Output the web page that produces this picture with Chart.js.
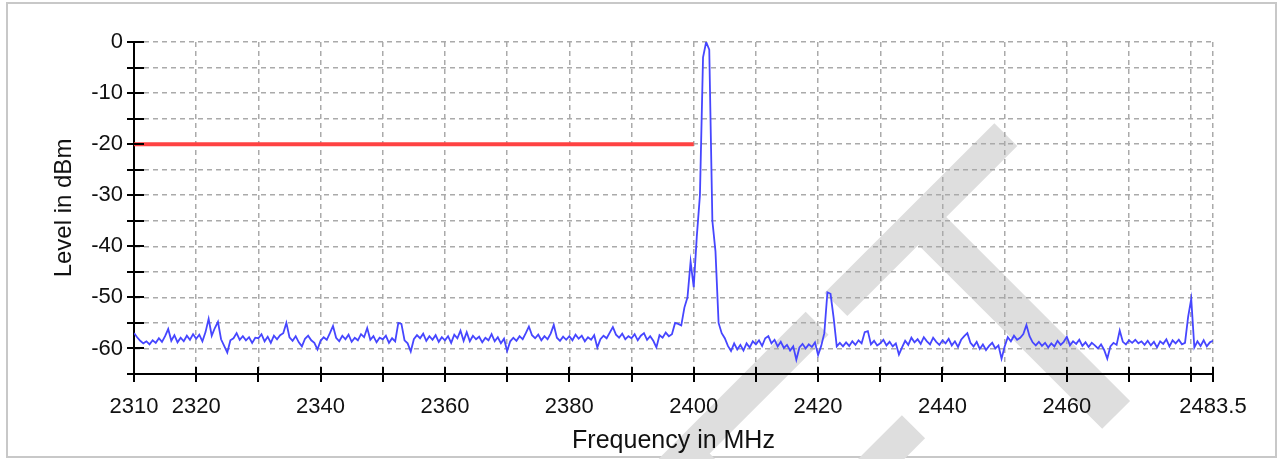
<!DOCTYPE html>
<html>
<head>
<meta charset="utf-8">
<title>Spectrum 2310 - 2483.5 MHz</title>
<script src="https://cdn.jsdelivr.net/npm/chart.js@4.4.0/dist/chart.umd.min.js"></script>
<style>
	html, body { margin: 0; padding: 0; background: #ffffff; }
	#Chart_Box { position: relative; width: 1282px; height: 459px; }
</style>
</head>
<body>
<div id="Chart_Box"><canvas id="Chart_Spectrum"></canvas></div>
<script>

// sweep: one reading every 0.5 MHz from 2310 MHz
const sweep_start = 2310;
const sweep_step = 0.5;

const level_dbm = [
	// 2310
	-57.0, -57.8, -58.5, -59.0, -58.6, -59.2, -58.4, -58.9, -58.0, -58.7, -57.6, -56.2, -58.5, -57.4, -58.8, -57.9, -58.6, -57.5, -58.3, -57.2,
	// 2320
	-58.1, -57.3, -58.6, -56.8, -54.2, -57.5, -56.0, -54.8, -58.2, -59.5, -60.8, -58.4, -58.0, -57.0, -58.3, -57.6, -58.4, -57.8, -58.9, -57.9,
	// 2330
	-58.0, -57.2, -58.6, -57.7, -58.9, -57.5, -58.2, -57.4, -57.0, -55.0, -57.8, -58.5, -57.6, -58.8, -59.6, -58.1, -57.5, -58.4, -58.9, -60.2,
	// 2340
	-58.5, -57.8, -58.3, -57.0, -55.6, -57.9, -58.6, -57.5, -58.2, -57.3, -58.7, -57.9, -58.4, -57.2, -57.8, -56.0, -58.3, -57.6, -58.8, -57.9,
	// 2350
	-58.2, -57.5, -58.9, -58.0, -58.6, -55.0, -55.2, -58.4, -59.0, -60.6, -58.2, -57.4, -58.0, -57.1, -58.5, -57.6, -58.3, -57.4, -58.7, -57.8,
	// 2360
	-58.4, -57.6, -58.9, -57.3, -58.0, -56.5, -58.5, -56.8, -58.6, -57.5, -58.2, -57.7, -58.8, -57.9, -58.4, -57.2, -58.6, -57.8, -59.0, -58.1,
	// 2370
	-60.5, -58.6, -57.9, -58.5, -57.6, -58.2, -57.0, -55.7, -57.4, -58.0, -57.3, -58.4, -57.6, -58.2, -57.1, -55.4, -57.9, -58.5, -57.7, -58.3,
	// 2380
	-57.6, -58.4, -57.3, -58.1, -57.5, -58.6, -57.8, -58.3, -57.4, -59.8, -58.2, -57.5, -58.0, -56.9, -55.8, -57.3, -57.9, -57.1, -58.2, -57.6,
	// 2390
	-58.0, -57.2, -58.4, -57.5, -57.0, -58.3, -57.6, -58.5, -59.8, -57.4, -57.9, -56.9, -57.6, -57.2, -55.0, -55.2, -55.5, -52.0, -50.0, -43.0,
	// 2400 (carrier)
	-48.0, -38.0, -30.0, -3.0, 0.0, -1.5, -35.0, -41.0, -55.0, -57.0, -58.0, -59.5, -60.5, -59.0, -60.2, -59.3, -60.4, -59.0, -59.8, -58.6,
	// 2410
	-59.2, -58.4, -59.5, -58.0, -57.6, -59.0, -58.3, -59.6, -58.7, -59.9, -59.3, -60.4, -59.6, -62.2, -59.8, -59.1, -60.0, -59.2, -59.7, -58.8,
	// 2420
	-61.3, -59.5, -57.0, -49.0, -49.3, -54.0, -59.6, -58.9, -59.6, -58.8, -59.5, -58.6, -59.3, -58.4, -59.0, -56.8, -56.6, -59.2, -58.5, -59.4,
	// 2430
	-59.0, -58.3, -59.4, -58.7, -59.6, -59.0, -61.2, -59.8, -58.5, -59.3, -57.9, -58.8, -58.2, -59.1, -57.8, -58.6, -59.2, -57.9, -58.7, -59.3,
	// 2440
	-58.4, -59.0, -58.1, -59.4, -58.6, -59.7, -58.3, -57.6, -57.0, -58.9, -59.6, -58.7, -60.1, -59.2, -60.3, -59.5, -58.9, -60.0, -59.4, -62.0,
	// 2450
	-59.6, -57.8, -58.6, -57.5, -58.3, -57.9, -57.2, -55.4, -57.6, -58.8, -59.4, -58.7, -59.5, -58.9, -59.8, -59.0, -59.6, -58.5, -59.3, -58.7,
	// 2460
	-57.7, -59.4, -58.6, -59.1, -58.3, -59.5, -58.8, -59.7, -58.9, -59.4, -60.0, -59.2, -60.3, -62.0, -59.6, -58.9, -59.3, -56.5, -58.7, -59.2,
	// 2470
	-58.4, -58.9, -58.3, -59.0, -58.6, -59.3, -58.5, -59.4, -58.7, -59.8, -58.6, -59.1, -58.2, -59.6, -58.4, -59.0, -58.3, -59.2, -58.9, -53.8,
	// 2480
	-50.3, -59.8, -58.6, -59.5, -58.4, -59.6, -58.8, -58.5
];

// limit line
const limit_freq = [2310, 2400];
const limit_level = [-20, -20];

// axes
const freq_ticks = [2310, 2320, 2330, 2340, 2350, 2360, 2370, 2380, 2390, 2400, 2410, 2420, 2430, 2440, 2450, 2460, 2470, 2480, 2483.5];
const freq_labels = [2310, 2320, 2340, 2360, 2380, 2400, 2420, 2440, 2460, 2483.5];
const level_labels = [0, -10, -20, -30, -40, -50, -60];

const font_family = "'Liberation Sans', Arial, sans-serif";

window.onload = init;

let chart = null;

function init() {

	const chart_ctx = document.getElementById('Chart_Spectrum').getContext('2d');

	const trace = [];
	let idx = 0;
	while(idx < level_dbm.length) {
		trace[idx] = { x: sweep_start + idx * sweep_step, y: level_dbm[idx] };
		idx++;
	}

	const limit = [];
	idx = 0;
	while(idx < limit_freq.length) {
		limit[idx] = { x: limit_freq[idx], y: limit_level[idx] };
		idx++;
	}

	const chart_data = {
		datasets: [{
				label: 'Level',
				borderColor: 'rgb(70, 70, 255)',
				borderWidth: 1.8,
				data: trace
			}, {
				label: 'Limit',
				borderColor: 'rgb(255, 66, 66)',
				borderWidth: 4,
				data: limit
			}
		]
	};

	const options = {
		responsive: true,
		maintainAspectRatio: false,
		animation: false,
		events: [],
		layout: {
			padding: { left: 0, top: 42, right: 69, bottom: 0 }
		},
		elements: {
			point: { radius: 0 },
			line: { tension: 0 }
		},
		plugins: {
			legend: { display: false },
			tooltip: { enabled: false }
		},
		scales: {
			x: {
				type: 'linear',
				min: 2310,
				max: 2483.5,
				afterBuildTicks: function(scale) {
					scale.ticks = freq_ticks.map(v => ({ value: v }));
				},
				afterFit: function(scale) { scale.height = 85; },
				grid: {
					color: 'rgb(170, 170, 170)',
					lineWidth: 1.5,
					drawTicks: false
				},
				border: { color: '#000000', width: 2, dash: [5, 4] },
				ticks: {
					autoSkip: false,
					maxRotation: 0,
					padding: 20,
					color: '#111111',
					font: { family: font_family, size: 22 },
					callback: function(value) {
						return freq_labels.includes(value) ? String(value) : '';
					}
				},
				title: {
					display: true,
					text: 'Frequency in MHz',
					color: '#111111',
					font: { family: font_family, size: 25 },
					padding: { top: 0, bottom: 3 }
				}
			},
			y: {
				min: -65,
				max: 0,
				afterFit: function(scale) { scale.width = 134; },
				grid: {
					color: 'rgb(170, 170, 170)',
					lineWidth: 1.5,
					drawTicks: false
				},
				border: { color: '#000000', width: 2, dash: [5, 4] },
				ticks: {
					stepSize: 5,
					autoSkip: false,
					padding: 11,
					color: '#111111',
					font: { family: font_family, size: 22 },
					callback: function(value) {
						return level_labels.includes(value) ? String(value) : '';
					}
				},
				title: {
					display: true,
					text: 'Level in dBm',
					color: '#111111',
					font: { family: font_family, size: 24 },
					padding: { top: 50, bottom: 0 }
				}
			}
		}
	};

	const config = {
		type: 'line',
		data: chart_data,
		options: options,
		plugins: [Page_Backdrop, Axis_Cross_Ticks]
	};

	chart = new Chart(chart_ctx, config);
}

//=============================================================================================================================

// white page, thin frame and the DRAFT stamp behind the plot
const Page_Backdrop = {
	id: 'page_backdrop',
	beforeDraw: function(chart) {
		const ctx = chart.ctx;
		const w = chart.width;
		const h = chart.height;

		ctx.save();
		ctx.fillStyle = '#ffffff';
		ctx.fillRect(0, 0, w, h);

		ctx.strokeStyle = 'rgb(200, 200, 200)';
		ctx.lineWidth = 2;
		ctx.strokeRect(7, 3, w - 13, h - 5);

		ctx.translate(1208, 323);
		ctx.rotate(-Math.PI / 4);
		ctx.fillStyle = 'rgb(222, 222, 222)';
		ctx.font = `425px ${font_family}`;
		ctx.textAlign = 'right';
		ctx.textBaseline = 'alphabetic';
		ctx.fillText('DRAFT', 0, 0);
		ctx.restore();
	}
};

//=============================================================================================================================

// tick marks that cross the axis lines
const Axis_Cross_Ticks = {
	id: 'axis_cross_ticks',
	afterDraw: function(chart) {
		const ctx = chart.ctx;
		const area = chart.chartArea;
		const x_scale = chart.scales.x;
		const y_scale = chart.scales.y;

		ctx.save();
		ctx.strokeStyle = '#000000';
		ctx.lineWidth = 2;
		ctx.beginPath();
		for(const tick of x_scale.ticks) {
			const px = Math.round(x_scale.getPixelForValue(tick.value));
			ctx.moveTo(px, area.bottom - 7);
			ctx.lineTo(px, area.bottom + 8);
		}
		for(const tick of y_scale.ticks) {
			const py = Math.round(y_scale.getPixelForValue(tick.value));
			ctx.moveTo(area.left - 7, py);
			ctx.lineTo(area.left + 10, py);
		}
		ctx.stroke();
		ctx.restore();
	}
};
</script>
</body>
</html>
